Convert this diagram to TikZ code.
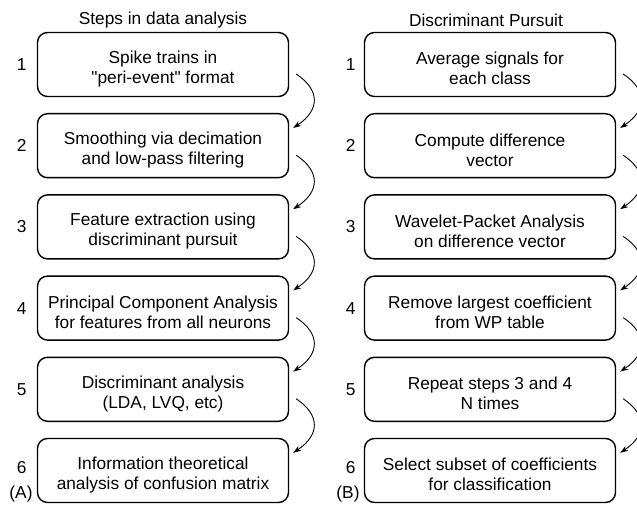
\documentclass[tikz,border=0pt]{standalone}
\usepackage{fontspec}
\setmainfont{Liberation Sans}
\usetikzlibrary{arrows.meta,calc}
\newcommand\topstrut{\rule{0pt}{21pt}}
\begin{document}
\begin{tikzpicture}[x=1pt,y=-1pt,
  stepbox/.style={draw,line width=1.4pt,rounded corners=10pt,minimum width=251pt,minimum height=64pt,align=center,inner sep=0pt,font=\fontsize{17.3}{20}\selectfont},
  lbl/.style={font=\fontsize{17.3}{20}\selectfont,inner sep=0pt},
  flow/.style={line width=0.9pt,-{Stealth[length=8pt,width=5.5pt]}}]
\clip (0,0) rectangle (637,505);
\node[lbl] (ta) at (163,20) {Steps in data analysis};
\node[lbl] (tb) at (486,20) {Discriminant Pursuit};
\node[stepbox] (a1) at (163,64.5) {\topstrut Spike trains in\\\textquotedbl peri-event\textquotedbl{} format};
\node[stepbox] (a2) at (163,145.7) {\topstrut Smoothing via decimation\\and low-pass filtering};
\node[stepbox] (a3) at (163,226.9) {\topstrut Feature extraction using\\discriminant pursuit};
\node[stepbox] (a4) at (163,308.1) {\topstrut Principal Component Analysis\\for features from all neurons};
\node[stepbox] (a5) at (163,389.3) {\topstrut Discriminant analysis\\(LDA, LVQ, etc)};
\node[stepbox] (a6) at (163,470.5) {\topstrut Information theoretical\\analysis of confusion matrix};
\node[stepbox] (b1) at (490,64.5) {\topstrut Average signals for\\each class};
\node[stepbox] (b2) at (490,145.7) {\topstrut Compute difference\\vector};
\node[stepbox] (b3) at (490,226.9) {\topstrut Wavelet-Packet Analysis\\on difference vector};
\node[stepbox] (b4) at (490,308.1) {\topstrut Remove largest coefficient\\from WP table};
\node[stepbox] (b5) at (490,389.3) {\topstrut Repeat steps 3 and 4\\N times};
\node[stepbox] (b6) at (490,470.5) {\topstrut Select subset of coefficients\\for classification};
\foreach \i in {1,...,5}{
  \node[lbl] (na\i) at ($(a\i.west)+(-15,0)$) {\i};
  \node[lbl] (nb\i) at ($(b\i.west)+(-13,0)$) {\i};
}
\node[lbl] (na6) at ($(a6.west)+(-15,-3)$) {6};
\node[lbl] (nb6) at ($(b6.west)+(-13,-3)$) {6};
\node[lbl] (capa) at (21,494) {(A)};
\node[lbl] (capb) at (348,494) {(B)};
\foreach \c in {a,b}{
  \foreach \i/\j in {1/2,2/3,3/4,4/5,5/6}{
    \draw[flow] ($(\c\i.east)+(7,9.5)$) .. controls ($(\c\i.east)+(31,25.5)$) and ($(\c\j.east)+(31,-35.7)$) .. ($(\c\j.east)+(4,-17.7)$);
  }
}
\end{tikzpicture}
\end{document}
